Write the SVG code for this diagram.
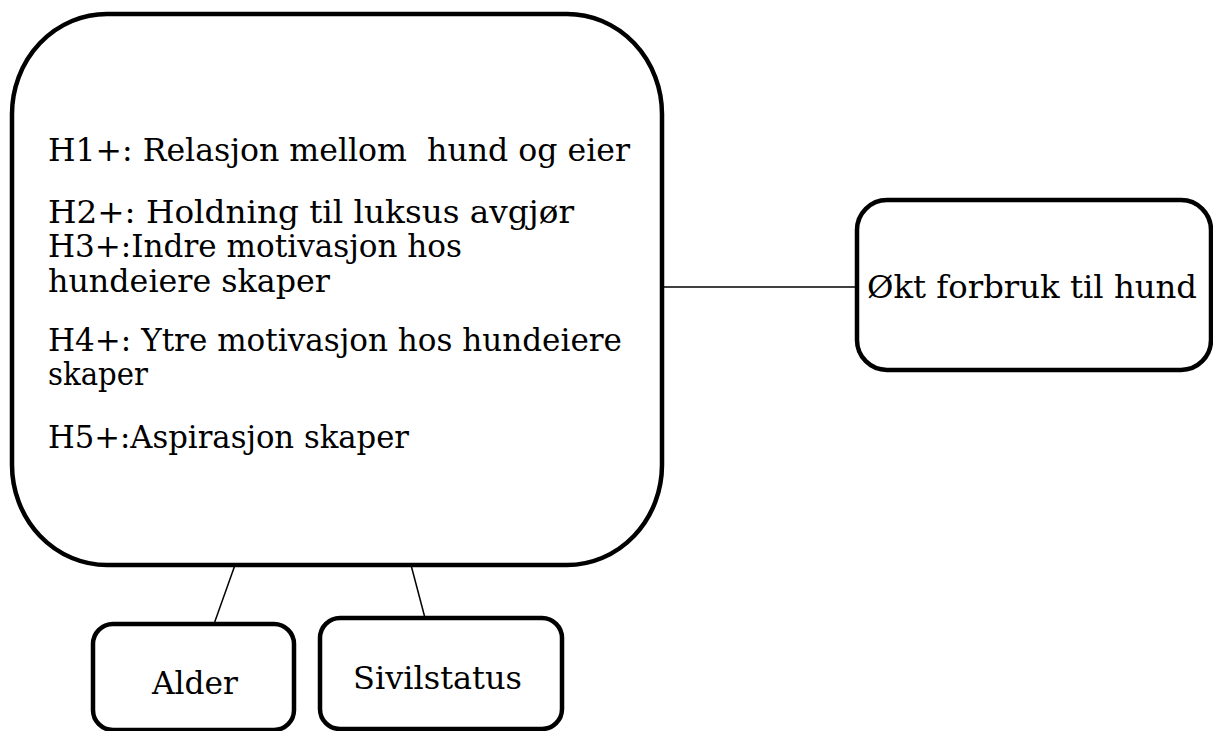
<svg xmlns="http://www.w3.org/2000/svg" width="1213" height="731" viewBox="0 0 1213 731">
<style>
.box{fill:#fff;stroke:#000;stroke-width:4.5}
.edge{stroke:#000;stroke-width:1.5;fill:none}
.t{font-family:"DejaVu Serif","Liberation Serif",serif;font-size:31px;fill:#000;white-space:pre}
</style>
<rect width="1213" height="731" fill="#fff"/>
<g id="connectors">
<line class="edge" x1="662" y1="287" x2="857" y2="287"/>
<line class="edge" x1="235" y1="565" x2="214" y2="624"/>
<line class="edge" x1="411" y1="565" x2="425" y2="618"/>
</g>
<g id="hypoteser">
<rect class="box" x="12" y="14" width="650" height="551" rx="95" ry="100"/>
<text class="t" x="48" y="161" textLength="582" lengthAdjust="spacingAndGlyphs" xml:space="preserve">H1+: Relasjon mellom  hund og eier</text>
<text class="t" x="48" y="223" textLength="526" lengthAdjust="spacingAndGlyphs">H2+: Holdning til luksus avgjør</text>
<text class="t" x="48" y="257" textLength="414" lengthAdjust="spacingAndGlyphs">H3+:Indre motivasjon hos</text>
<text class="t" x="48" y="292" textLength="282" lengthAdjust="spacingAndGlyphs">hundeiere skaper</text>
<text class="t" x="48" y="351" textLength="574" lengthAdjust="spacingAndGlyphs">H4+: Ytre motivasjon hos hundeiere</text>
<text class="t" x="48" y="385" textLength="100" lengthAdjust="spacingAndGlyphs">skaper</text>
<text class="t" x="48" y="448" textLength="361" lengthAdjust="spacingAndGlyphs">H5+:Aspirasjon skaper</text>
</g>
<g id="okt">
<rect class="box" x="857" y="200" width="354" height="170" rx="30"/>
<text class="t" x="867" y="298" textLength="330" lengthAdjust="spacingAndGlyphs">Økt forbruk til hund</text>
</g>
<g id="alder">
<rect class="box" x="93" y="624" width="201" height="106" rx="20"/>
<text class="t" x="152" y="694" textLength="86" lengthAdjust="spacingAndGlyphs">Alder</text>
</g>
<g id="sivilstatus">
<rect class="box" x="320" y="618" width="242" height="111" rx="20"/>
<text class="t" x="353" y="689" textLength="169" lengthAdjust="spacingAndGlyphs">Sivilstatus</text>
</g>
</svg>
